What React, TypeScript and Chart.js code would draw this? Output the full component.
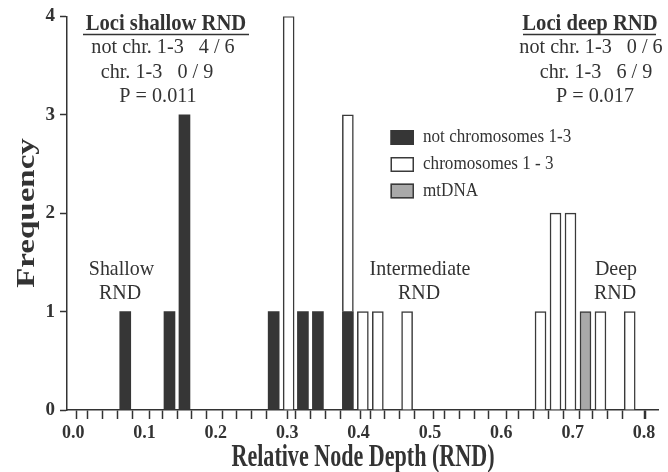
import React, { useEffect, useRef } from "react";
import { Chart, registerables } from "chart.js";

Chart.register(...registerables);

// ---------- data ----------
const SERIES_LABELS = ["not chromosomes 1-3", "chromosomes 1 - 3", "mtDNA"];

// bin centres (RND) and frequencies for each series
const notChrX = [0.073, 0.135, 0.156, 0.281, 0.322, 0.343, 0.385];
const notChrY = [1, 1, 3, 1, 1, 1, 1];

const chrX = [0.302, 0.385, 0.406, 0.427, 0.468, 0.655, 0.676, 0.697, 0.739, 0.780];
const chrY = [4, 2, 1, 1, 1, 1, 2, 2, 1, 1];

const mtX = [0.718];
const mtY = [1];

const X_TICK_VALUES = [0, 0.1, 0.2, 0.3, 0.4, 0.5, 0.6, 0.7, 0.8];
const X_TICK_LABELS = ["0.0", "0.1", "0.2", "0.3", "0.4", "0.5", "0.6", "0.7", "0.8"];
const Y_TICK_VALUES = [0, 1, 2, 3, 4];

// histogram bins (minor tick marks sit on the bin centres)
const BIN_FIRST_CENTRE = 0.0103;
const BIN_WIDTH = 0.02081;
const BIN_COUNT = 39;

const X_TITLE = "Relative Node Depth (RND)";
const Y_TITLE = "Frequency";

const SHALLOW_BOX = ["Loci shallow RND", "not chr. 1-3   4 / 6", "chr. 1-3   0 / 9", "P = 0.011"];
const DEEP_BOX = ["Loci deep RND", "not chr. 1-3   0 / 6", "chr. 1-3   6 / 9", "P = 0.017"];
const REGION_LABELS = [
  ["Shallow", "RND"],
  ["Intermediate", "RND"],
  ["Deep", "RND"],
];

// ---------- styles ----------
const SERIF = "'Liberation Serif', 'Times New Roman', serif";
const TEXT = "#333333";
const DARK = "#363636";
const OUTLINE = "#3a3a3a";
const GREY = "#a9a9a9";

function toPoints(xs: number[], ys: number[]) {
  return xs.map((x, i) => ({ x, y: ys[i] }));
}

function drawText(
  ctx: CanvasRenderingContext2D,
  text: string,
  cx: number,
  cy: number,
  font: string,
  sx = 1,
  align: CanvasTextAlign = "center"
) {
  ctx.save();
  ctx.font = font;
  ctx.fillStyle = TEXT;
  ctx.textAlign = align;
  ctx.textBaseline = "middle";
  ctx.translate(cx, cy);
  ctx.scale(sx, 1);
  ctx.fillText(text, 0, 0);
  ctx.restore();
}

const annotationPlugin = {
  id: "annotations",
  afterDraw(chart: any) {
    const ctx: CanvasRenderingContext2D = chart.ctx;
    const bold24 = `bold 24px ${SERIF}`;
    const reg21 = `21px ${SERIF}`;

    // --- statistic boxes ---
    const boxes = [
      { lines: SHALLOW_BOX, cx: [166, 163, 157, 158], ul: [83, 249] },
      { lines: DEEP_BOX, cx: [590, 591, 596, 595], ul: [523, 656] },
    ];
    const rowsY = [24, 47.5, 72, 96];
    for (const b of boxes) {
      drawText(ctx, b.lines[0], b.cx[0], rowsY[0], bold24, 0.86);
      ctx.save();
      ctx.strokeStyle = TEXT;
      ctx.lineWidth = 1.6;
      ctx.beginPath();
      ctx.moveTo(b.ul[0], 34.5);
      ctx.lineTo(b.ul[1], 34.5);
      ctx.stroke();
      ctx.restore();
      for (let i = 1; i < b.lines.length; i++) {
        drawText(ctx, b.lines[i], b.cx[i], rowsY[i], reg21, 0.96);
      }
    }

    // --- region labels ---
    const regionPos = [
      [121.5, 120],
      [420, 419],
      [616, 615],
    ];
    REGION_LABELS.forEach((lines, i) => {
      drawText(ctx, lines[0], regionPos[i][0], 269, reg21, 0.95);
      drawText(ctx, lines[1], regionPos[i][1], 293, reg21, 0.95);
    });

    // --- legend ---
    const ds = chart.data.datasets;
    const legendY = [137.5, 164.5, 191];
    ds.forEach((d: any, i: number) => {
      const y = legendY[i];
      ctx.save();
      ctx.fillStyle = d.backgroundColor;
      ctx.fillRect(390.5, y - 7.5, 23.5, 15);
      ctx.strokeStyle = d.borderColor;
      ctx.lineWidth = 1.5;
      ctx.strokeRect(391.25, y - 6.75, 22, 13.5);
      ctx.restore();
      drawText(ctx, d.label, 423, y, `19px ${SERIF}`, 0.9, "left");
    });

    // --- axis titles ---
    drawText(ctx, X_TITLE, 363, 458, `bold 32px ${SERIF}`, 0.69);
    ctx.save();
    ctx.translate(28, 213);
    ctx.rotate(-Math.PI / 2);
    ctx.scale(1, 0.76);
    ctx.font = `bold 33px ${SERIF}`;
    ctx.fillStyle = TEXT;
    ctx.textAlign = "center";
    ctx.textBaseline = "middle";
    ctx.fillText(Y_TITLE, 0, 0);
    ctx.restore();
  },
};

export default function App() {
  const canvasRef = useRef<HTMLCanvasElement | null>(null);

  useEffect(() => {
    const canvas = canvasRef.current;
    if (!canvas) return;

    const binTicks: any[] = [];
    for (let k = 0; k < BIN_COUNT; k++) {
      binTicks.push({ value: BIN_FIRST_CENTRE + k * BIN_WIDTH, isLabel: false });
    }
    const labelTicks = X_TICK_VALUES.map((v) => ({ value: v, isLabel: true }));
    const allXTicks = [...binTicks, ...labelTicks].sort((a, b) => a.value - b.value);

    const common = {
      barThickness: 11,
      borderSkipped: "start",
      grouped: true,
    };

    const chart = new Chart(canvas, {
      type: "bar",
      data: {
        datasets: [
          {
            label: SERIES_LABELS[0],
            data: toPoints(notChrX, notChrY),
            backgroundColor: DARK,
            borderColor: DARK,
            borderWidth: 0,
            ...common,
          },
          {
            label: SERIES_LABELS[1],
            data: toPoints(chrX, chrY),
            backgroundColor: "#ffffff",
            borderColor: OUTLINE,
            borderWidth: 1.5,
            ...common,
          },
          {
            label: SERIES_LABELS[2],
            data: toPoints(mtX, mtY),
            backgroundColor: GREY,
            borderColor: OUTLINE,
            borderWidth: 1.5,
            ...common,
          },
        ] as any,
      },
      options: {
        responsive: false,
        devicePixelRatio: 1,
        animation: false,
        events: [],
        layout: { padding: { top: 15, right: 10, left: 0, bottom: 0 } },
        plugins: {
          legend: { display: false },
          tooltip: { enabled: false },
        },
        scales: {
          x: {
            type: "linear",
            stacked: true,
            min: 0,
            max: 0.811,
            afterBuildTicks: (scale: any) => {
              scale.ticks = allXTicks.map((t) => ({ ...t }));
            },
            afterFit: (scale: any) => {
              scale.height = 62;
            },
            ticks: {
              autoSkip: false,
              maxRotation: 0,
              minRotation: 0,
              padding: 4,
              color: TEXT,
              font: { family: SERIF, size: 18, weight: "bold" },
              callback: (value: any) => {
                const idx = X_TICK_VALUES.findIndex((v) => Math.abs(v - Number(value)) < 1e-9);
                return idx >= 0 ? X_TICK_LABELS[idx] : "";
              },
            },
            grid: {
              drawOnChartArea: false,
              drawTicks: true,
              tickLength: 9,
              tickWidth: 1.5,
              tickColor: (c: any) => (c.tick && c.tick.isLabel ? "rgba(0,0,0,0)" : TEXT),
            },
            border: { display: true, color: TEXT, width: 1.5 },
          },
          y: {
            type: "linear",
            stacked: true,
            min: 0,
            max: 4,
            afterBuildTicks: (scale: any) => {
              scale.ticks = Y_TICK_VALUES.map((v) => ({ value: v }));
            },
            afterFit: (scale: any) => {
              scale.width = 67;
            },
            ticks: {
              padding: 5,
              color: TEXT,
              font: { family: SERIF, size: 19, weight: "bold" },
              callback: (value: any) => String(value),
            },
            grid: {
              drawOnChartArea: false,
              drawTicks: true,
              tickLength: 7,
              tickWidth: 1.5,
              tickColor: TEXT,
            },
            border: { display: true, color: TEXT, width: 1.5 },
          },
        },
      } as any,
      plugins: [annotationPlugin],
    });

    return () => {
      chart.destroy();
    };
  }, []);

  return (
    <div
      style={{
        position: "fixed",
        left: 0,
        top: 0,
        width: 668,
        height: 472,
        background: "#ffffff",
      }}
    >
      <canvas ref={canvasRef} width={668} height={472} style={{ display: "block", width: 668, height: 472 }} />
    </div>
  );
}
